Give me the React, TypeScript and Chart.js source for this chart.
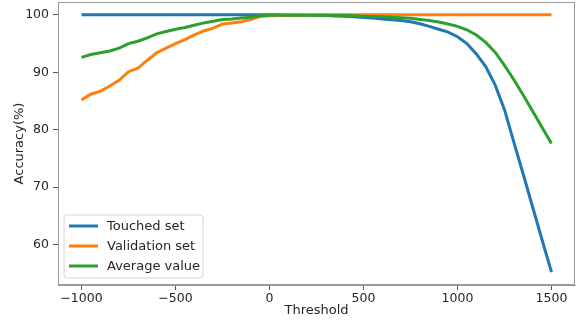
import React, { useEffect, useRef } from 'react';
import { Chart, registerables } from 'chart.js';

Chart.register(...registerables);

const thresholds = [
  -1000, -950, -900, -850, -800, -750, -700, -650, -600, -550,
  -500, -450, -400, -350, -300, -250, -200, -150, -100, -50,
  0, 50, 100, 150, 200, 250, 300, 350, 400, 450,
  500, 550, 600, 650, 700, 750, 800, 850, 900, 950,
  1000, 1050, 1100, 1150, 1200, 1250, 1300, 1350, 1400, 1450, 1500,
];

const touchedSet = [
  100, 100, 100, 100, 100, 100, 100, 100, 100, 100,
  100, 100, 100, 100, 100, 100, 100, 100, 100, 100,
  100, 100, 99.98, 99.96, 99.94, 99.9, 99.87, 99.82, 99.75, 99.65,
  99.55, 99.45, 99.3, 99.15, 99.0, 98.8, 98.45, 98.0, 97.5, 97.0,
  96.2, 95.0, 93.2, 91.0, 87.8, 83.5, 77.8, 72.2, 66.5, 60.8, 55.2,
];

const validationSet = [
  85.2, 86.2, 86.7, 87.6, 88.6, 90.1, 90.7, 92.1, 93.4, 94.2,
  95.0, 95.7, 96.5, 97.2, 97.7, 98.4, 98.6, 98.8, 99.2, 99.7,
  99.85, 99.9, 99.92, 99.95, 99.97, 100, 100, 100, 100, 100,
  100, 100, 100, 100, 100, 100, 100, 100, 100, 100,
  100, 100, 100, 100, 100, 100, 100, 100, 100, 100, 100,
];

const averageValue = [
  92.6, 93.1, 93.4, 93.7, 94.2, 95.0, 95.4, 96.0, 96.7, 97.1,
  97.5, 97.8, 98.2, 98.6, 98.9, 99.2, 99.3, 99.45, 99.6, 99.85,
  99.92, 99.95, 99.95, 99.95, 99.95, 99.95, 99.93, 99.9, 99.87, 99.83,
  99.78, 99.72, 99.65, 99.57, 99.5, 99.4, 99.2, 99.0, 98.75, 98.4,
  98.0, 97.4, 96.5, 95.2, 93.5, 91.2, 88.7, 86.0, 83.2, 80.4, 77.6,
];

const seriesNames = ['Touched set', 'Validation set', 'Average value'];
const seriesColors = ['#1f77b4', '#ff7f0e', '#2ca02c'];
const xTicks = [-1000, -500, 0, 500, 1000, 1500];
const yTicks = [60, 70, 80, 90, 100];
const xTitle = 'Threshold';
const yTitle = 'Accuracy(%)';

const FONT = "'DejaVu Sans', 'Liberation Sans', sans-serif";
const TEXT = '#262626';
const SPINE = '#9a9a9a';

const fmt = (v: number) => (v < 0 ? '\u2212' + String(Math.abs(v)) : String(v));

const frameAndLegend = {
  id: 'frameAndLegend',
  afterDatasetsDraw(chart: any) {
    const { ctx, chartArea } = chart;
    ctx.save();
    // spines
    ctx.strokeStyle = SPINE;
    ctx.lineWidth = 1;
    ctx.strokeRect(
      Math.round(chartArea.left) + 0.5,
      Math.round(chartArea.top) + 0.5,
      Math.round(chartArea.right - chartArea.left) - 1,
      Math.round(chartArea.bottom - chartArea.top) - 1
    );
    // legend
    const ds = chart.data.datasets;
    ctx.font = `13px ${FONT}`;
    const textW = Math.max(...ds.map((d: any) => ctx.measureText(d.label).width));
    const rowH = 20;
    const w = 43 + textW + 3;
    const h = rowH * (ds.length - 1) + 23;
    const x = chartArea.left + 6;
    const y = chartArea.bottom - 7 - h;
    const r = 3;
    ctx.beginPath();
    ctx.moveTo(x + r, y);
    ctx.lineTo(x + w - r, y);
    ctx.arcTo(x + w, y, x + w, y + r, r);
    ctx.lineTo(x + w, y + h - r);
    ctx.arcTo(x + w, y + h, x + w - r, y + h, r);
    ctx.lineTo(x + r, y + h);
    ctx.arcTo(x, y + h, x, y + h - r, r);
    ctx.lineTo(x, y + r);
    ctx.arcTo(x, y, x + r, y, r);
    ctx.closePath();
    ctx.fillStyle = 'rgba(255,255,255,0.8)';
    ctx.fill();
    ctx.strokeStyle = '#d6d6d6';
    ctx.lineWidth = 1;
    ctx.stroke();
    ds.forEach((d: any, i: number) => {
      const cy = y + 11 + i * rowH;
      ctx.beginPath();
      ctx.moveTo(x + 5, cy);
      ctx.lineTo(x + 34, cy);
      ctx.strokeStyle = d.borderColor;
      ctx.lineWidth = 3;
      ctx.stroke();
      ctx.fillStyle = TEXT;
      ctx.textBaseline = 'middle';
      ctx.textAlign = 'left';
      ctx.fillText(d.label, x + 43, cy + 1);
    });
    ctx.restore();
  },
};

export default function App() {
  const ref = useRef<HTMLCanvasElement | null>(null);

  useEffect(() => {
    document.body.style.margin = '0';
    const canvas = ref.current;
    if (!canvas) return;
    const series = [touchedSet, validationSet, averageValue];
    const chart = new Chart(canvas, {
      type: 'line',
      data: {
        datasets: series.map((vals, i) => ({
          label: seriesNames[i],
          data: thresholds.map((t, j) => ({ x: t, y: vals[j] })),
          borderColor: seriesColors[i],
          backgroundColor: seriesColors[i],
          borderWidth: 3,
          pointRadius: 0,
          tension: 0,
          fill: false,
          order: 3 - i,
        })),
      },
      options: {
        responsive: false,
        devicePixelRatio: 1,
        animation: false,
        layout: { padding: { top: 2, right: 5, left: 0, bottom: 0 } },
        plugins: { legend: { display: false }, tooltip: { enabled: false } },
        scales: {
          x: {
            type: 'linear',
            min: -1125,
            max: 1625,
            afterBuildTicks: (axis: any) => {
              axis.ticks = xTicks.map((v) => ({ value: v }));
            },
            afterFit: (s: any) => {
              s.height = 39;
              s.paddingLeft = 0;
              s.paddingRight = 0;
            },
            ticks: {
              callback: (v: any) => fmt(Number(v)),
              font: { family: FONT, size: 12.5 },
              color: TEXT,
              padding: 1,
              maxRotation: 0,
              autoSkip: false,
            },
            grid: {
              display: true,
              drawOnChartArea: false,
              drawTicks: true,
              tickLength: 5,
              color: '#555',
            },
            border: { display: true, color: SPINE },
            title: {
              display: true,
              text: xTitle,
              color: TEXT,
              font: { family: FONT, size: 13 },
              padding: { top: 0, bottom: 6 },
            },
          },
          y: {
            type: 'linear',
            min: 52.96,
            max: 102.24,
            afterBuildTicks: (axis: any) => {
              axis.ticks = yTicks.map((v) => ({ value: v }));
            },
            afterFit: (s: any) => {
              s.width = 58;
              s.paddingTop = 0;
              s.paddingBottom = 0;
            },
            ticks: {
              callback: (v: any) => fmt(Number(v)),
              font: { family: FONT, size: 12.5 },
              color: TEXT,
              padding: 4,
              autoSkip: false,
            },
            grid: {
              display: true,
              drawOnChartArea: false,
              drawTicks: true,
              tickLength: 5,
              color: '#555',
            },
            border: { display: true, color: SPINE },
            title: {
              display: true,
              text: yTitle,
              color: TEXT,
              font: { family: FONT, size: 13 },
              padding: { top: 12, bottom: 0 },
            },
          },
        },
      },
      plugins: [frameAndLegend],
    } as any);
    return () => chart.destroy();
  }, []);

  return (
    <div style={{ width: 580, height: 324 }}>
      <canvas ref={ref} width={580} height={324} style={{ display: 'block' }} />
    </div>
  );
}
